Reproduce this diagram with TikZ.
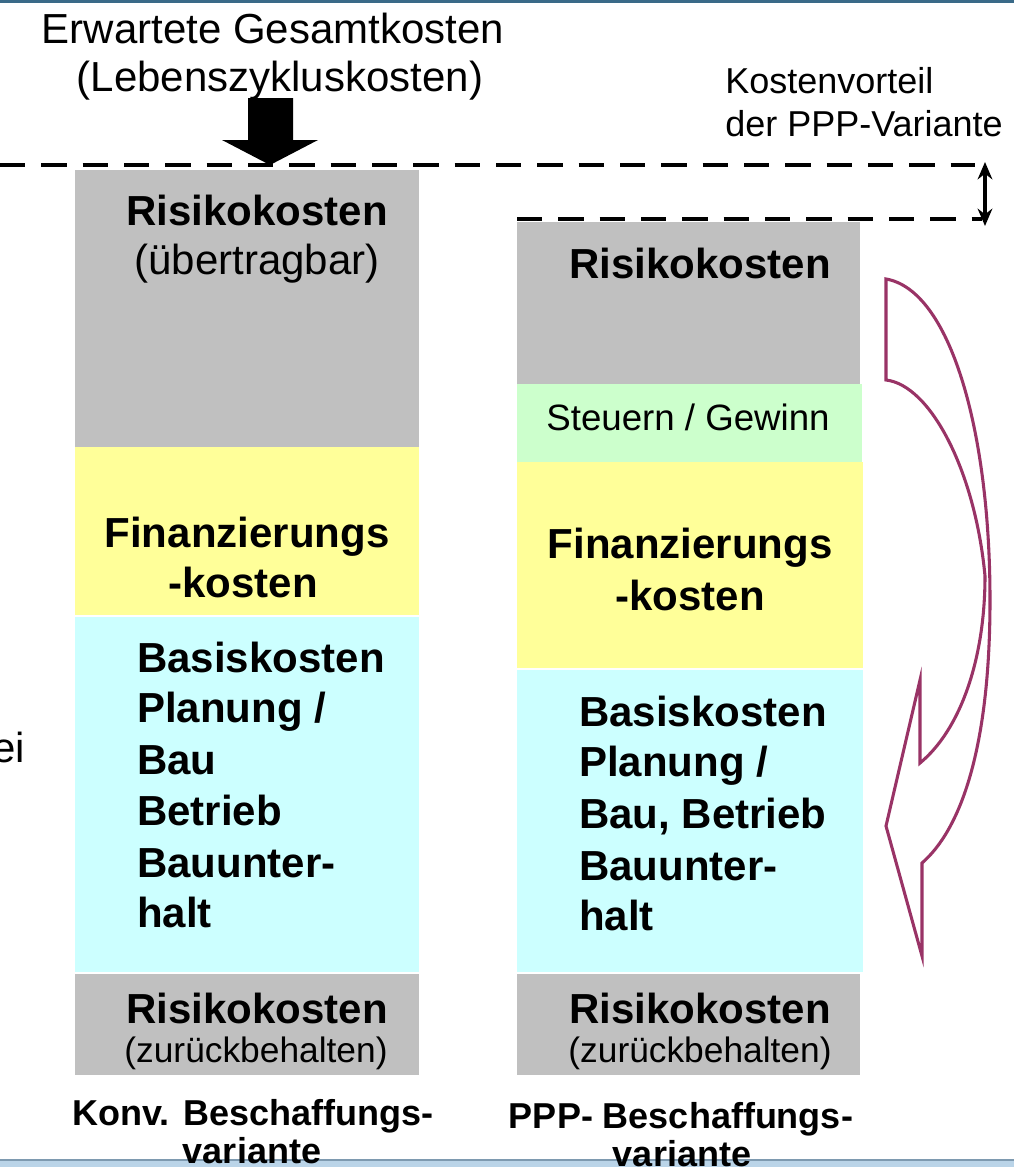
\documentclass[tikz,border=0pt]{standalone}
\usepackage{fontspec}
\setmainfont{Liberation Sans}
\usetikzlibrary{arrows.meta}
\definecolor{boxgray}{HTML}{C0C0C0}
\definecolor{boxyellow}{HTML}{FFFF99}
\definecolor{boxcyan}{HTML}{CCFFFF}
\definecolor{boxgreen}{HTML}{CCFFCC}
\definecolor{arrowpurple}{HTML}{993366}
\definecolor{topblue}{HTML}{3A6A88}
\definecolor{bandblue}{HTML}{BAD4E8}
\definecolor{bandline}{HTML}{7E9AB0}
\begin{document}
\begin{tikzpicture}[x=0.75pt,y=-0.75pt,
  lbl/.style={inner sep=0pt, anchor=base},
  lblL/.style={inner sep=0pt, anchor=base west},
  big/.style={lbl, font=\fontsize{31.5}{36}\selectfont},
  bigB/.style={lbl, font=\fontsize{31.5}{36}\selectfont\bfseries},
  bigBL/.style={lblL, font=\fontsize{31.5}{36}\selectfont\bfseries},
  mid/.style={lbl, font=\fontsize{26.5}{30}\selectfont},
  midL/.style={lblL, font=\fontsize{27}{30}\selectfont},
  midB/.style={lbl, font=\fontsize{27}{30}\selectfont\bfseries},
  dashline/.style={line width=3pt, dash pattern=on 19pt off 12pt},
  bendarrow/.style={draw=arrowpurple, line width=2.3pt, line join=miter}
]
\useasboundingbox (0,0) rectangle (1014,1167);
\clip (0,0) rectangle (1014,1167);
\fill[white] (0,0) rectangle (1014,1167);
% frame
\fill[topblue] (0,0) rectangle (1014,3);
\fill[bandblue] (0,1160) rectangle (1014,1167);
\draw[bandline, line width=1.2pt] (0,1160) -- (1014,1160);

% left column
\fill[boxgray]   (75,170) rectangle (419,447);
\fill[boxyellow] (75,447) rectangle (419,615);
\fill[boxcyan]   (75,617) rectangle (419,972);
\fill[boxgray]   (75,974) rectangle (419,1075);
% right column
\fill[boxgray]   (517,222) rectangle (860,384);
\fill[boxgreen]  (517,384) rectangle (862,462);
\fill[boxyellow] (517,462) rectangle (863,668);
\fill[boxcyan]   (517,670) rectangle (863,972);
\fill[boxgray]   (517,974) rectangle (860,1075);

% dashed lines
\coordinate (d1a) at (0,165);
\coordinate (d1b) at (975,165);
\coordinate (d2a) at (517,219);
\coordinate (d2b) at (982,219);
\draw[dashline] (d1a) -- (d1b);
\draw[dashline] (d2a) -- (d2b);
\coordinate (va) at (985,162);
\coordinate (vb) at (985,226);
\draw[line width=2.6pt, {Stealth[length=13pt,width=11pt]}-{Stealth[length=13pt,width=11pt]}] (va) -- (vb);

% titles
\node[big] (t1) at (273,43) {Erwartete Gesamtkosten};
\node[big] (t2) at (280,91) {(Lebenszykluskosten)};
\node[midL] (k1) at (725,93) {Kostenvorteil};
\node[midL] (k2) at (725,136) {der PPP-Variante};

% big black arrow
\fill[black] (248,98) -- (293,98) -- (293,140) -- (318,140) -- (270,165) -- (222,140) -- (248,140) -- cycle;

% left texts
\node[bigB] (lr1) at (257,225) {Risikokosten};
\node[big]  (lr2) at (257,274) {(übertragbar)};
\node[bigB] (lf1) at (247,547) {Finanzierungs};
\node[bigB] (lf2) at (243,597) {-kosten};
\node[bigBL] (lb1) at (137,672) {Basiskosten};
\node[bigBL] (lb2) at (137,722) {Planung /};
\node[bigBL] (lb3) at (137,774) {Bau};
\node[bigBL] (lb4) at (137,825) {Betrieb};
\node[bigBL] (lb5) at (137,877) {Bauunter-};
\node[bigBL] (lb6) at (137,927) {halt};
\node[bigB] (lz1) at (257,1023) {Risikokosten};
\node[mid]  (lz2) at (256,1062) {(zurückbehalten)};
\node[midB] (lk1) at (253,1125) {Konv. Beschaffungs-};
\node[midB] (lk2) at (252,1163) {variante};

% right texts
\node[bigB] (rr1) at (700,278) {Risikokosten};
\node[lbl, font=\fontsize{27.5}{30}\selectfont] (rs) at (688,430) {Steuern / Gewinn};
\node[bigB] (rf1) at (690,558) {Finanzierungs};
\node[bigB] (rf2) at (690,610) {-kosten};
\node[bigBL] (rb1) at (579,726) {Basiskosten};
\node[bigBL] (rb2) at (579,776) {Planung /};
\node[bigBL] (rb3) at (579,828) {Bau, Betrieb};
\node[bigBL] (rb4) at (579,880) {Bauunter-};
\node[bigBL] (rb5) at (579,930) {halt};
\node[bigB] (rz1) at (700,1023) {Risikokosten};
\node[mid]  (rz2) at (700,1062) {(zurückbehalten)};
\node[midB] (rk1) at (681,1128) {PPP- Beschaffungs-};
\node[midB] (rk2) at (682,1166) {variante};

% clipped text at left edge
\node[inner sep=0pt, anchor=base east, font=\fontsize{31.5}{36}\selectfont] (ei) at (25,762) {ei};

% curved purple arrow
\draw[bendarrow] (886,279) .. controls (950,290) and (990,430) .. (990,600)
  .. controls (990,750) and (960,830) .. (922,863)
  -- (922,956) -- (886,826) -- (920,680) -- (920,763)
  .. controls (960,730) and (985,660) .. (985,576)
  .. controls (975,470) and (930,385) .. (886,380) -- cycle;
\end{tikzpicture}
\end{document}
